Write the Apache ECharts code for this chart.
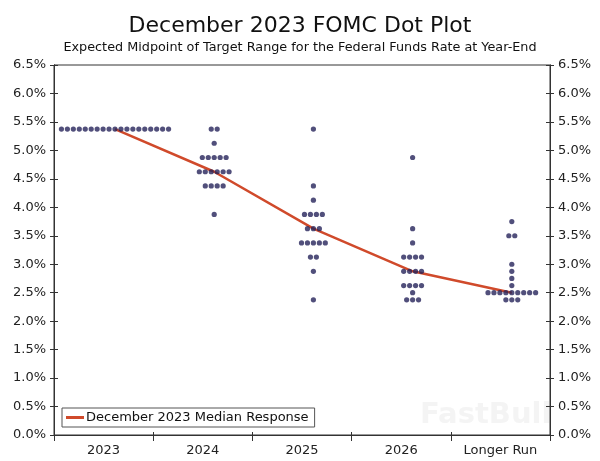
<!DOCTYPE html>
<html>
<head>
<meta charset="utf-8">
<script src="https://cdn.jsdelivr.net/npm/echarts@6/dist/echarts.min.js"></script>
<style>
html,body{margin:0;padding:0;background:#fff;}
#c{width:600px;height:461px;}
</style>
</head>
<body>
<div id="c"></div>
<script>
// ---- data ----
var categories = ['2023', '2024', '2025', '2026', 'Longer Run'];
// [rate, number of participants]
var dots2023 = [[5.375, 19]];
var dots2024 = [[5.375, 2], [5.125, 1], [4.875, 5], [4.625, 6], [4.375, 4], [3.875, 1]];
var dots2025 = [[5.375, 1], [4.375, 1], [4.125, 1], [3.875, 4], [3.625, 3], [3.375, 5], [3.125, 2], [2.875, 1], [2.375, 1]];
var dots2026 = [[4.875, 1], [3.625, 1], [3.375, 1], [3.125, 4], [2.875, 4], [2.625, 4], [2.5, 1], [2.375, 3]];
var dotsLonger = [[3.75, 1], [3.5, 2], [3.0, 1], [2.875, 1], [2.75, 1], [2.625, 1], [2.5, 9], [2.375, 3]];
var medianResponse = [5.375, 4.625, 3.625, 2.875, 2.5];
var seriesName = 'December 2023 Median Response';

// ---- build ----
var allDots = [dots2023, dots2024, dots2025, dots2026, dotsLonger];
var SHIFT = 0.115, SPACING = 0.06;
var scatterData = [];
allDots.forEach(function (levels, i) {
  levels.forEach(function (lv) {
    var n = lv[1];
    for (var j = 0; j < n; j++) {
      scatterData.push([i + 0.5 + SHIFT + (j - (n - 1) / 2) * SPACING, lv[0]]);
    }
  });
});
var lineData = medianResponse.map(function (v, i) { return [i + 0.5 + SHIFT, v]; });

var axisColor = '#333';
var font = 'DejaVu Sans';
function yAx(pos, inside, labels) {
  return {
    type: 'value', position: pos, min: 0, max: 6.5, interval: 0.5,
    axisLine: { show: true, lineStyle: { color: axisColor, width: 1 } },
    axisTick: { show: true, inside: inside, length: 4, lineStyle: { color: axisColor } },
    axisLabel: {
      show: labels, margin: 8, color: '#222', fontFamily: font, fontSize: 13,
      formatter: function (v) { return v.toFixed(1) + '%'; }
    },
    splitLine: { show: false }
  };
}
function xAx(inside, labels, len) {
  return {
    type: 'category', data: categories, position: 'bottom', boundaryGap: true,
    axisLine: { show: true, lineStyle: { color: axisColor, width: 1 } },
    axisTick: { show: true, inside: inside, length: len, lineStyle: { color: axisColor } },
    axisLabel: { show: labels, margin: 9, color: '#222', fontFamily: font, fontSize: 13 },
    splitLine: { show: false }
  };
}

var chart = echarts.init(document.getElementById('c'), null, { renderer: 'canvas' });
chart.setOption({
  animation: false,
  backgroundColor: '#fff',
  title: {
    text: 'December 2023 FOMC Dot Plot',
    subtext: 'Expected Midpoint of Target Range for the Federal Funds Rate at Year-End',
    left: 'center', top: 10, itemGap: 4,
    textStyle: { fontFamily: font, fontSize: 22, fontWeight: 'normal', color: '#111' },
    subtextStyle: { fontFamily: font, fontSize: 12.8, color: '#111' }
  },
  legend: {
    data: [{ name: seriesName, icon: 'rect' }],
    left: 62, top: 408, orient: 'horizontal',
    itemWidth: 18, itemHeight: 3, itemGap: 4,
    padding: [3, 6, 3, 4],
    borderColor: '#555', borderWidth: 1, backgroundColor: '#fff',
    textStyle: { fontFamily: font, fontSize: 13, color: '#111', padding: [0, 0, 0, -3] }
  },
  grid: { left: 54, right: 50, top: 65, bottom: 26, show: true, borderColor: axisColor, borderWidth: 1, backgroundColor: 'transparent' },
  xAxis: [
    xAx(false, true, 6),
    xAx(true, false, 3),
    { type: 'value', min: 0, max: 5, show: false }
  ],
  yAxis: [
    yAx('left', false, true),
    yAx('left', true, false),
    yAx('right', false, true),
    yAx('right', true, false)
  ],
  graphic: [{
    type: 'text', left: 420, top: 401, z: 0,
    style: { text: 'FastBull', fontFamily: 'DejaVu Sans', fontWeight: 'bold', fontSize: 29, fill: 'rgba(228,228,228,0.4)' }
  }],
  series: [
    {
      type: 'line', name: seriesName, xAxisIndex: 2, yAxisIndex: 0,
      data: lineData, symbol: 'none', z: 2,
      lineStyle: { color: '#d04a2b', width: 2.5 }, itemStyle: { color: '#d04a2b' }
    },
    {
      type: 'scatter', name: 'dots', xAxisIndex: 2, yAxisIndex: 0,
      data: scatterData, symbol: 'circle', symbolSize: 5.2, z: 3,
      itemStyle: { color: '#25235a' }
    }
  ]
});
</script>
</body>
</html>
